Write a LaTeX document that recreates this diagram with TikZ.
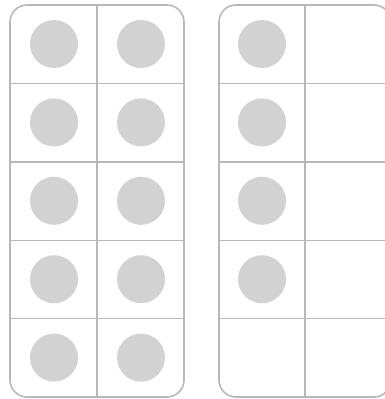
\documentclass[tikz,border=0pt]{standalone}
\begin{document}
\begin{tikzpicture}[x=1pt,y=-1pt,
  framebox/.style={draw=framegray,line width=1.6pt,rounded corners=17pt},
  gridline/.style={draw=framegray,line width=1.4pt},
  counter/.style={circle,fill=dotgray,minimum size=48pt,inner sep=0pt}]
\definecolor{framegray}{HTML}{B8B8B8}
\definecolor{dotgray}{HTML}{D2D2D2}
\useasboundingbox (0,0) rectangle (385,399);
\clip (0,0) rectangle (385,399);
% left frame
\draw[framebox] (10,5) rectangle (184,397);
\draw[gridline] (97,5) -- (97,397);
\foreach \i in {1,...,4} {\draw[gridline] (10,5+78.4*\i) -- (184,5+78.4*\i);}
\foreach \i in {0,...,4} {
  \node[counter] (l\i a) at (54,44+78.4*\i) {};
  \node[counter] (l\i b) at (141,44+78.4*\i) {};
}
% right frame
\draw[framebox] (219,5) rectangle (391,397);
\draw[gridline] (305,5) -- (305,397);
\foreach \i in {1,...,4} {\draw[gridline] (219,5+78.4*\i) -- (391,5+78.4*\i);}
\foreach \i in {0,...,3} {
  \node[counter] (r\i) at (262,44+78.4*\i) {};
}
\end{tikzpicture}
\end{document}
